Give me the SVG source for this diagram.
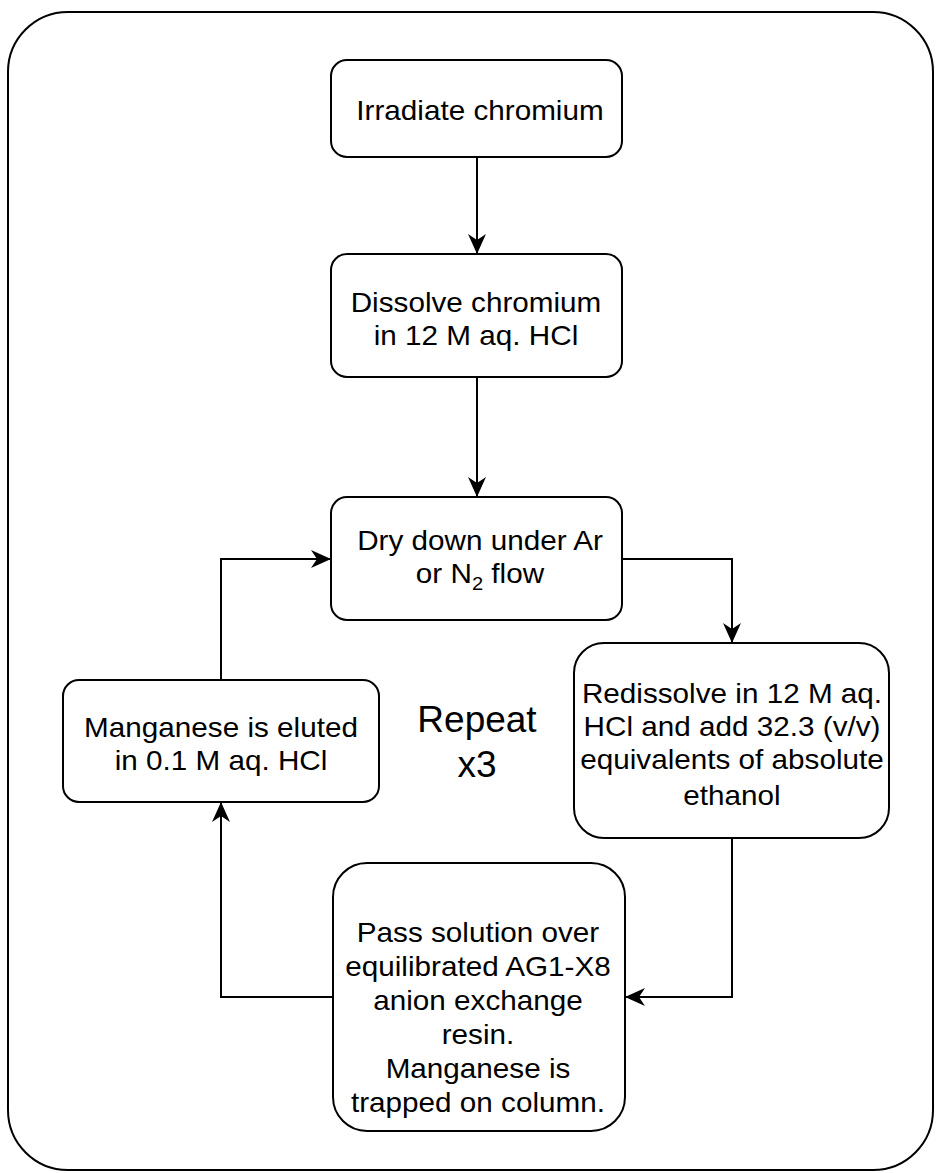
<svg xmlns="http://www.w3.org/2000/svg" width="938" height="1173" viewBox="0 0 938 1173">
<style>
.box{fill:#fff;stroke:#000;stroke-width:2}
.frame{fill:#fff;stroke:#000;stroke-width:2}
.t{font-family:"Liberation Sans",Arial,sans-serif;font-size:28px;fill:#000;text-anchor:middle}
.big{font-size:37px}
.c{fill:none;stroke:#000;stroke-width:2}
</style>
<defs>
<marker id="ah" viewBox="0 0 20 18" refX="19" refY="9" markerWidth="20" markerHeight="18" markerUnits="userSpaceOnUse" orient="auto">
<path d="M0,0 L20,9 L0,18 L6,9 Z" fill="#000"/>
</marker>
</defs>
<rect class="frame" x="8" y="12" width="925" height="1158" rx="60" ry="60"/>
<g id="connectors">
<path class="c" d="M477,157 L477,253" marker-end="url(#ah)"/>
<path class="c" d="M477,377 L477,496" marker-end="url(#ah)"/>
<path class="c" d="M622,559 L732,559 L732,642" marker-end="url(#ah)"/>
<path class="c" d="M732,838 L732,997 L626,997" marker-end="url(#ah)"/>
<path class="c" d="M333,997 L221,997 L221,803" marker-end="url(#ah)"/>
<path class="c" d="M221,680 L221,559 L330,559" marker-end="url(#ah)"/>
</g>
<g id="n1">
<rect class="box" x="331" y="60" width="291" height="97" rx="16"/>
<text class="t" transform="translate(480,120) scale(1.06,1)">Irradiate chromium</text>
</g>
<g id="n2">
<rect class="box" x="331" y="254" width="291" height="123" rx="16"/>
<text class="t" transform="translate(476,312) scale(1.06,1)"><tspan x="0">Dissolve chromium</tspan><tspan x="0" dy="33">in 12 M aq. HCl</tspan></text>
</g>
<g id="n3">
<rect class="box" x="331" y="497" width="291" height="123" rx="16"/>
<text class="t" transform="translate(480,550) scale(1.06,1)"><tspan x="0">Dry down under Ar</tspan><tspan x="0" dy="33">or N<tspan font-size="19" dy="7">2</tspan><tspan dy="-7"> flow</tspan></tspan></text>
</g>
<g id="n4">
<rect class="box" x="574" y="643" width="315" height="195" rx="30"/>
<text class="t" transform="translate(732,703) scale(1.06,1)"><tspan x="0">Redissolve in 12 M aq.</tspan><tspan x="0" dy="33">HCl and add 32.3 (v/v)</tspan><tspan x="0" dy="33">equivalents of absolute</tspan><tspan x="0" dy="36">ethanol</tspan></text>
</g>
<g id="n5">
<rect class="box" x="333" y="863" width="292" height="268" rx="34"/>
<text class="t" transform="translate(478,942) scale(1.06,1)"><tspan x="0">Pass solution over</tspan><tspan x="0" dy="34">equilibrated AG1-X8</tspan><tspan x="0" dy="34">anion exchange</tspan><tspan x="0" dy="34">resin.</tspan><tspan x="0" dy="34">Manganese is</tspan><tspan x="0" dy="34">trapped on column.</tspan></text>
</g>
<g id="n6">
<rect class="box" x="63" y="680" width="316" height="122" rx="16"/>
<text class="t" transform="translate(221,737) scale(1.06,1)"><tspan x="0">Manganese is eluted</tspan><tspan x="0" dy="33">in 0.1 M aq. HCl</tspan></text>
</g>
<g id="label">
<text class="t big" transform="translate(477,732)"><tspan x="0">Repeat</tspan><tspan x="0" dy="45">x3</tspan></text>
</g>
</svg>
